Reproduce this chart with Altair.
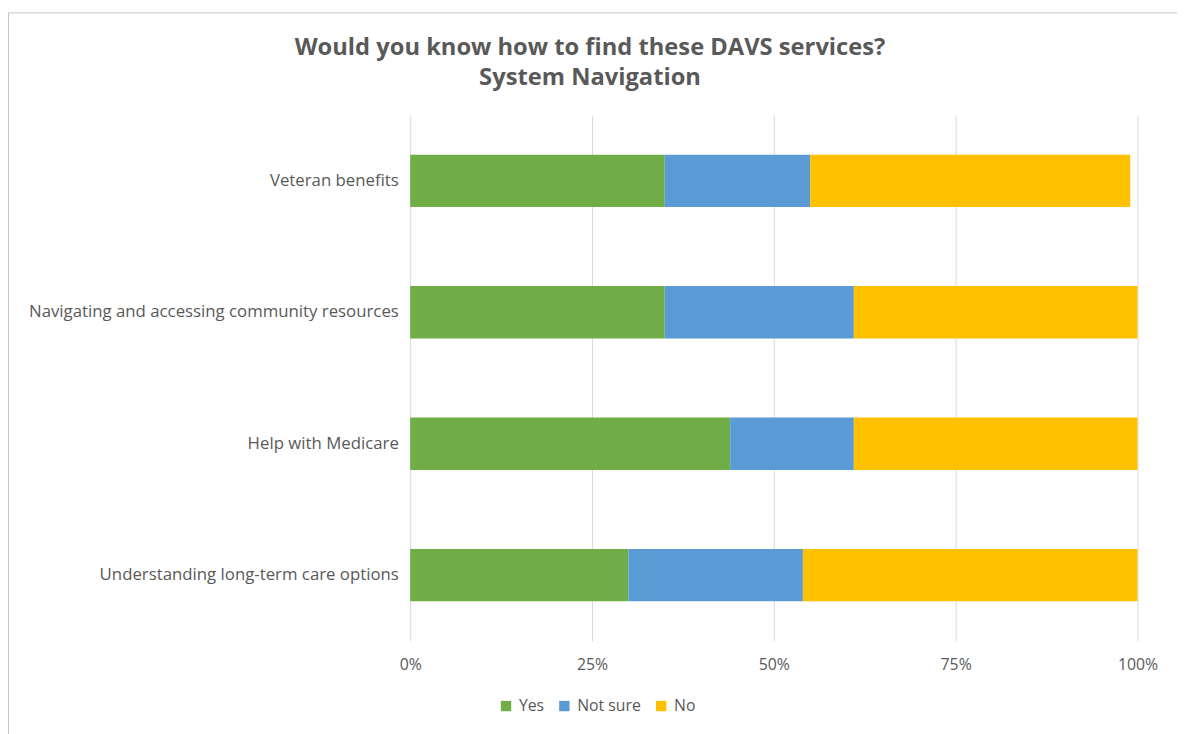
import altair as alt
import pandas as pd

categories = ["Veteran benefits ", "Navigating and accessing community resources",
              "Help with Medicare ", "Understanding long-term care options"]
responses = ["Yes", "Not sure", "No"]
yes = [35, 35, 44, 30]
not_sure = [20, 26, 17, 24]
no = [44, 39, 39, 46]
colors = ["#70AD47", "#5B9BD5", "#FFC000"]

rows = []
for i, c in enumerate(categories):
    for j, (r, v) in enumerate(zip(responses, [yes[i], not_sure[i], no[i]])):
        rows.append({"category": c, "response": r, "value": v / 100.0, "ord": j})
df = pd.DataFrame(rows)

font = "Open Sans"
grey = "#595959"

bars = alt.Chart(df).mark_bar(size=53).encode(
    x=alt.X("value:Q", stack="zero",
            scale=alt.Scale(domain=[0, 1], nice=False),
            axis=alt.Axis(format=".0%", values=[0, 0.25, 0.5, 0.75, 1], title=None,
                          grid=True, gridColor="#D9D9D9", domain=False, ticks=False,
                          labelFont=font, labelFontSize=16, labelColor=grey,
                          labelPadding=16, labelFlush=False)),
    y=alt.Y("category:N", sort=categories, title=None,
            scale=alt.Scale(paddingInner=0.6, paddingOuter=0.3),
            axis=alt.Axis(domain=False, ticks=False, labelFont=font, labelFontSize=17,
                          labelColor=grey, labelPadding=12, labelLimit=500)),
    color=alt.Color("response:N", sort=responses,
                    scale=alt.Scale(domain=responses, range=colors),
                    legend=alt.Legend(title=None, orient="none", direction="horizontal",
                                      legendX=89, legendY=590, symbolType="square",
                                      symbolSize=110, symbolStrokeWidth=0,
                                      labelFont=font, labelFontSize=16, labelColor=grey,
                                      columnPadding=12, labelOffset=5)),
    order=alt.Order("ord:Q"),
)

one = pd.DataFrame({"k": [0]})
top_line = alt.Chart(one).mark_rule(color="#C4C4C4", strokeWidth=1).encode(
    x=alt.value(-406.5), x2=alt.value(790), y=alt.value(-103.5))
left_line = alt.Chart(one).mark_rule(color="#C4C4C4", strokeWidth=1).encode(
    x=alt.value(-406.5), y=alt.value(-103.5), y2=alt.value(640))

chart = alt.layer(top_line, left_line, bars).properties(
    width=736, height=532,
    title=alt.TitleParams(["Would you know how to find these DAVS services?", "System Navigation"],
                          font=font, fontSize=24, fontWeight="bold", color=grey,
                          anchor="middle", frame="group", dx=-186, lineHeight=31, offset=-79),
    padding={"left": 407, "top": 104, "right": 40, "bottom": 100},
    autosize=alt.AutoSizeParams(type="none"),
).configure_view(stroke=None).configure_axisY(grid=False)

chart.save("out.html", embed_options={"renderer": "svg", "actions": False})
